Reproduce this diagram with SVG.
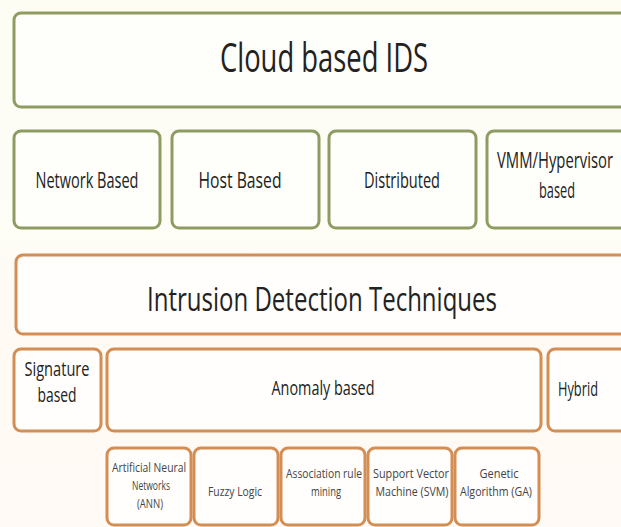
<svg xmlns="http://www.w3.org/2000/svg" width="621" height="527" viewBox="0 0 621 527">
<defs>
<linearGradient id="bg" x1="0" y1="0" x2="0" y2="1">
<stop offset="0" stop-color="#fdfdf4"/>
<stop offset="0.45" stop-color="#fefdf6"/>
<stop offset="0.55" stop-color="#fffaf4"/>
<stop offset="1" stop-color="#fffaf5"/>
</linearGradient>
</defs>
<style>
.g{fill:#fefefa;stroke:#8e9c62;stroke-width:3}
.o{fill:#fffefc;stroke:#d48d52;stroke-width:3}
text{font-family:"Open Sans","Liberation Sans",sans-serif;fill:#222;text-anchor:middle}
.s{fill:#444}
</style>
<rect width="621" height="527" fill="url(#bg)"/>
<g id="cloud-ids">
<rect class="g" x="14" y="13" width="630" height="94" rx="7"/>
<text x="324" y="72" font-size="40" textLength="208" lengthAdjust="spacingAndGlyphs">Cloud based IDS</text>
</g>
<g id="network-based">
<rect class="g" x="14" y="131" width="146" height="97" rx="7"/>
<text x="87" y="188" font-size="22" textLength="103" lengthAdjust="spacingAndGlyphs">Network Based</text>
</g>
<g id="host-based">
<rect class="g" x="172" y="131" width="147" height="97" rx="7"/>
<text x="240" y="188" font-size="22" textLength="83" lengthAdjust="spacingAndGlyphs">Host Based</text>
</g>
<g id="distributed">
<rect class="g" x="329" y="131" width="147" height="97" rx="7"/>
<text x="402" y="188" font-size="22" textLength="76" lengthAdjust="spacingAndGlyphs">Distributed</text>
</g>
<g id="vmm">
<rect class="g" x="487" y="131" width="150" height="97" rx="7"/>
<text x="555" y="168" font-size="21" textLength="116" lengthAdjust="spacingAndGlyphs">VMM/Hypervisor</text>
<text x="557" y="198" font-size="21" textLength="36" lengthAdjust="spacingAndGlyphs">based</text>
</g>
<g id="idt">
<rect class="o" x="16" y="255" width="630" height="79" rx="7"/>
<text x="322" y="311" font-size="32" textLength="350" lengthAdjust="spacingAndGlyphs">Intrusion Detection Techniques</text>
</g>
<g id="signature">
<rect class="o" x="14" y="349" width="87" height="82" rx="7"/>
<text x="57" y="376" font-size="20" textLength="65" lengthAdjust="spacingAndGlyphs">Signature</text>
<text x="57" y="402" font-size="20" textLength="39" lengthAdjust="spacingAndGlyphs">based</text>
</g>
<g id="anomaly">
<rect class="o" x="107" y="349" width="434" height="82" rx="7"/>
<text x="323" y="395" font-size="20" textLength="103" lengthAdjust="spacingAndGlyphs">Anomaly based</text>
</g>
<g id="hybrid">
<rect class="o" x="548" y="349" width="100" height="82" rx="7"/>
<text x="578" y="396" font-size="20" textLength="40" lengthAdjust="spacingAndGlyphs">Hybrid</text>
</g>
<g id="ann">
<rect class="o" x="107" y="448" width="84" height="77" rx="7"/>
<text class="s" x="149" y="472" font-size="13" textLength="74" lengthAdjust="spacingAndGlyphs">Artificial Neural</text>
<text class="s" x="151" y="490" font-size="13" textLength="38" lengthAdjust="spacingAndGlyphs">Networks</text>
<text class="s" x="150" y="508" font-size="13" textLength="26" lengthAdjust="spacingAndGlyphs">(ANN)</text>
</g>
<g id="fuzzy">
<rect class="o" x="194" y="448" width="84" height="77" rx="7"/>
<text class="s" x="235" y="496" font-size="13" textLength="54" lengthAdjust="spacingAndGlyphs">Fuzzy Logic</text>
</g>
<g id="arm">
<rect class="o" x="281" y="448" width="84" height="77" rx="7"/>
<text class="s" x="324" y="478" font-size="13" textLength="76" lengthAdjust="spacingAndGlyphs">Association rule</text>
<text class="s" x="326" y="496" font-size="13" textLength="30" lengthAdjust="spacingAndGlyphs">mining</text>
</g>
<g id="svm">
<rect class="o" x="368" y="448" width="84" height="77" rx="7"/>
<text class="s" x="411" y="478" font-size="13" textLength="76" lengthAdjust="spacingAndGlyphs">Support Vector</text>
<text class="s" x="412" y="496" font-size="13" textLength="73" lengthAdjust="spacingAndGlyphs">Machine (SVM)</text>
</g>
<g id="ga">
<rect class="o" x="455" y="448" width="84" height="77" rx="7"/>
<text class="s" x="499" y="478" font-size="13" textLength="39" lengthAdjust="spacingAndGlyphs">Genetic</text>
<text class="s" x="496" y="496" font-size="13" textLength="72" lengthAdjust="spacingAndGlyphs">Algorithm (GA)</text>
</g>
<g id="connectors"/>
</svg>
